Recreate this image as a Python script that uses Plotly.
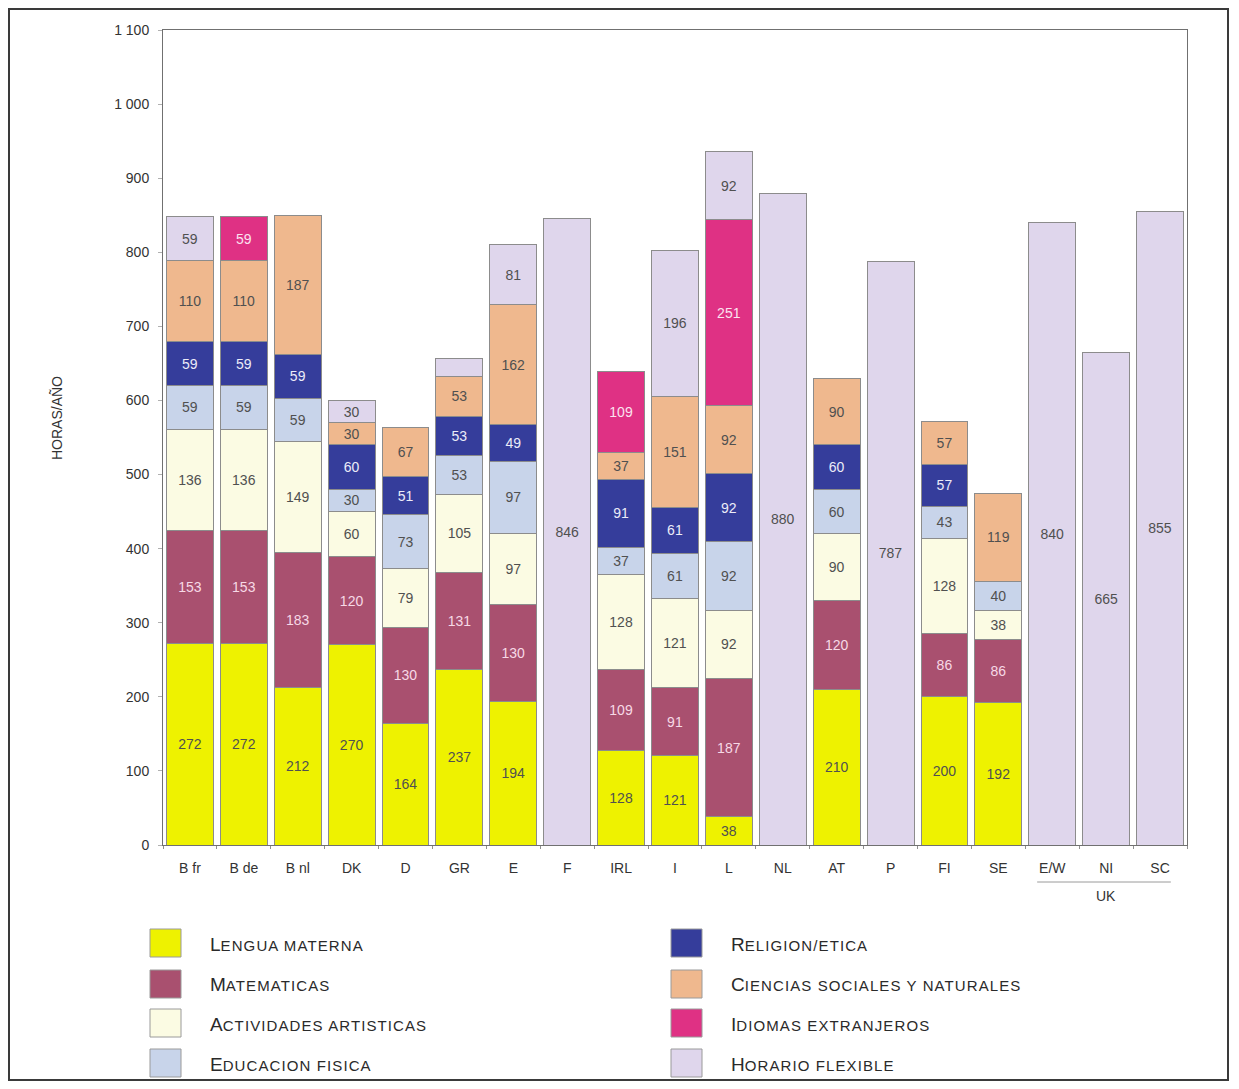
import plotly.graph_objects as go

# ---------------- data ----------------
categories = ["B fr", "B de", "B nl", "DK", "D", "GR", "E", "F", "IRL", "I",
              "L", "NL", "AT", "P", "FI", "SE", "E/W", "NI", "SC"]

lengua_materna = [272, 272, 212, 270, 164, 237, 194, None, 128, 121,
                  38, None, 210, None, 200, 192, None, None, None]
matematicas = [153, 153, 183, 120, 130, 131, 130, None, 109, 91,
               187, None, 120, None, 86, 86, None, None, None]
actividades_artisticas = [136, 136, 149, 60, 79, 105, 97, None, 128, 121,
                          92, None, 90, None, 128, 38, None, None, None]
educacion_fisica = [59, 59, 59, 30, 73, 53, 97, None, 37, 61,
                    92, None, 60, None, 43, 40, None, None, None]
religion_etica = [59, 59, 59, 60, 51, 53, 49, None, 91, 61,
                  92, None, 60, None, 57, None, None, None, None]
ciencias = [110, 110, 187, 30, 67, 53, 162, None, 37, 151,
            92, None, 90, None, 57, 119, None, None, None]
idiomas_extranjeros = [None, 59, None, None, None, None, None, None, 109, None,
                       251, None, None, None, None, None, None, None, None]
horario_flexible = [59, None, None, 30, None, 25, 81, 846, None, 196,
                    92, 880, None, 787, None, None, 840, 665, 855]
unlabeled_flexible = ["GR"]  # segment drawn without a value label

series_names = ["Lengua materna", "Matematicas", "Actividades artisticas",
                "Educacion fisica", "Religion/etica",
                "Ciencias sociales y naturales", "Idiomas extranjeros",
                "Horario flexible"]
series_values = [lengua_materna, matematicas, actividades_artisticas,
                 educacion_fisica, religion_etica, ciencias,
                 idiomas_extranjeros, horario_flexible]

y_tick_values = [0, 100, 200, 300, 400, 500, 600, 700, 800, 900, 1000, 1100]
y_tick_labels = ["0", "100", "200", "300", "400", "500", "600", "700",
                 "800", "900", "1 000", "1 100"]

# ---------------- styles ----------------
colors = ["#eef200", "#a9506f", "#fbfbe3", "#c8d4ea",
          "#353d9b", "#efb88e", "#df3184", "#dfd6ec"]
text_colors = ["#505050", "#f7d9e6", "#505050", "#505050",
               "#ececf8", "#505050", "#fbe3ef", "#505050"]
FONT = "Liberation Sans, Arial, sans-serif"

WIN_W, WIN_H = 1239, 1089
BODY = 8  # default page margin around the plot div
FIG_W, FIG_H = WIN_W - BODY, WIN_H - 2 * BODY
# plot area in window pixels
L, R, T, B = 163, 1187, 30, 845


def px_x(x):
    return (x - L) / (R - L)


def px_y(y):
    return (B - y) / (B - T)


def small_caps(s, big=19, small=15):
    s = s.upper()
    return (f"<span style='font-size:{big}px'>{s[0]}</span>"
            f"<span style='font-size:{small}px;letter-spacing:1.1px'>{s[1:]}</span>")


fig = go.Figure()

for i, (name, vals) in enumerate(zip(series_names, series_values)):
    labels = []
    for cat, v in zip(categories, vals):
        if v is None or (name == "Horario flexible" and cat in unlabeled_flexible):
            labels.append("")
        else:
            labels.append(str(v))
    fig.add_trace(go.Bar(
        x=categories, y=vals, name=name,
        marker=dict(color=colors[i], line=dict(color="#8c8c8c", width=1)),
        text=labels, textposition="inside", insidetextanchor="middle",
        textangle=0,
        textfont=dict(color=text_colors[i], size=14, family=FONT),
        showlegend=False, hoverinfo="x+y+name",
    ))

shapes = []
annotations = []

# outer frame
shapes.append(dict(type="rect", xref="paper", yref="paper",
                   x0=px_x(BODY + 1), x1=px_x(1228), y0=px_y(WIN_H - BODY - 1),
                   y1=px_y(BODY + 1),
                   line=dict(color="#3a3a3a", width=2), fillcolor="rgba(0,0,0,0)"))

# custom legend (two columns)
legend_cols = [(150, 208), (671, 729)]
legend_rows = [929, 970, 1009, 1049]
for i, name in enumerate(series_names):
    col, row = divmod(i, 4)
    sx, tx = legend_cols[col]
    y0 = legend_rows[row]
    shapes.append(dict(type="rect", xref="paper", yref="paper",
                       x0=px_x(sx), x1=px_x(sx + 31), y0=px_y(y0 + 28), y1=px_y(y0),
                       fillcolor=colors[i], line=dict(color="#9a9a9a", width=1)))
    annotations.append(dict(xref="paper", yref="paper", x=px_x(tx), y=px_y(y0 + 15),
                            xanchor="left", yanchor="middle", showarrow=False,
                            text=small_caps(name),
                            font=dict(family=FONT, color="#2a2a2a", size=19)))

# UK group bracket
shapes.append(dict(type="line", xref="x", yref="paper",
                   x0=15.72, x1=18.2, y0=px_y(882), y1=px_y(882),
                   line=dict(color="#9a9a9a", width=1)))
annotations.append(dict(xref="x", yref="paper", x=17, y=px_y(896),
                        xanchor="center", yanchor="middle", showarrow=False,
                        text="UK", font=dict(family=FONT, color="#333", size=14)))

# y axis title
annotations.append(dict(xref="paper", yref="paper", x=px_x(57), y=px_y(418),
                        xanchor="center", yanchor="middle", showarrow=False,
                        textangle=-90, text="HORAS/AÑO",
                        font=dict(family=FONT, color="#333", size=14)))

fig.update_layout(
    barmode="stack", bargap=0.13,
    width=FIG_W, height=FIG_H,
    margin=dict(l=L - BODY, r=WIN_W - R, t=T - BODY, b=(BODY + FIG_H) - B,
                autoexpand=False),
    paper_bgcolor="white", plot_bgcolor="white",
    font=dict(family=FONT, color="#333", size=14),
    shapes=shapes, annotations=annotations,
    xaxis=dict(type="category", showline=True, linecolor="#707070", mirror=True,
               ticks="outside", tickson="boundaries", ticklen=3, tickcolor="#909090",
               tickfont=dict(size=14, color="#333"), showgrid=False,
               ticklabelstandoff=10),
    yaxis=dict(range=[0, 1100], tickvals=y_tick_values, ticktext=y_tick_labels,
               showline=True, linecolor="#707070", mirror=True, showgrid=False,
               zeroline=False, ticks="outside", ticklen=4, tickcolor="#b0b0b0",
               tickfont=dict(size=14, color="#333"), ticklabelstandoff=6),
)

fig.write_html("out.html")
